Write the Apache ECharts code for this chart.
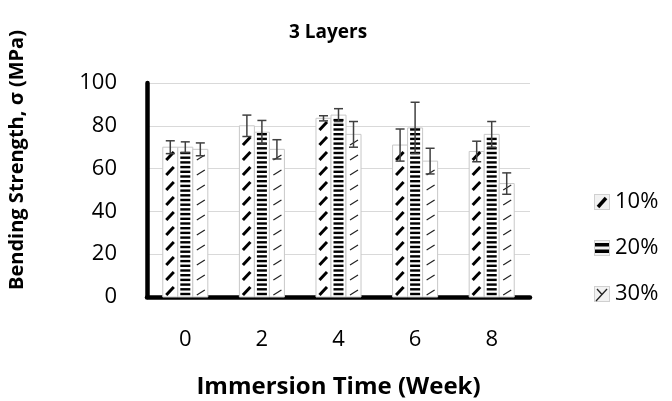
<!DOCTYPE html>
<html>
<head>
<meta charset="utf-8">
<script src="https://cdn.jsdelivr.net/npm/echarts@6/dist/echarts.min.js"></script>
<style>
  html, body { margin: 0; padding: 0; background: #fff; }
  #chart { width: 672px; height: 401px; }
</style>
</head>
<body>
<div id="chart"></div>
<script>
// Immersion time categories (weeks)
const weeks = ['0', '2', '4', '6', '8'];
// Fibre content series
const seriesNames = ['10%', '20%', '30%'];
// Mean bending strength (MPa)
const strength10 = [70, 80, 83.5, 71, 68];
const strength20 = [70, 77, 85, 79, 76];
const strength30 = [69, 69, 76, 63.5, 53];
// Standard deviation (MPa)
const error10 = [3, 5, 1.2, 7.5, 4.8];
const error20 = [2.5, 5.5, 3, 12, 6];
const error30 = [3, 4.5, 6, 6, 5];
// Value axis range
const yMin = 0, yMax = 100, yStep = 20;

const FONT = '"Open Sans", sans-serif';
const BAR_FRACTION = 0.196;   // width of one bar relative to the category band

// Hatching drawn inside each bar, one style per series
function hatchShapes(kind, x, yTop, w, yBot) {
  const out = [];
  if (kind === 0) {
    for (let y = yBot - 2; y - 8 >= yTop; y -= 15) {
      out.push({ type: 'line', shape: { x1: x + 3.5, y1: y, x2: x + w - 4, y2: y - 8 },
                 style: { stroke: '#000', lineWidth: 3 } });
    }
  } else if (kind === 1) {
    for (let y = yBot - 3; y - 1.2 >= yTop; y -= 4.7) {
      out.push({ type: 'rect', shape: { x: x + 2.5, y: y - 1.2, width: w - 5, height: 2.4 },
                 style: { fill: '#000' } });
    }
  } else {
    for (let y = yBot - 2; y - 5 >= yTop; y -= 15) {
      out.push({ type: 'line', shape: { x1: x + 4, y1: y, x2: x + w - 3, y2: y - 5 },
                 style: { stroke: '#222', lineWidth: 1.2 } });
    }
  }
  return out;
}

function makeRenderer(kind) {
  return function (params, api) {
    const cat = api.value(0);
    const val = api.value(1);
    const err = api.value(2);
    const base = api.coord([cat, 0]);
    const top = api.coord([cat, val]);
    const band = api.size([1, 0])[0];
    const w = band * BAR_FRACTION;
    const x = base[0] - 1.5 * w + kind * w;
    const yTop = top[1], yBot = base[1];
    const children = [
      { type: 'rect', shape: { x: x, y: yTop, width: w, height: yBot - yTop },
        style: { fill: '#fff', stroke: '#c8c8c8', lineWidth: 1 } }
    ].concat(hatchShapes(kind, x, yTop, w, yBot));
    // error bar
    const hi = api.coord([cat, val + err])[1];
    const lo = api.coord([cat, val - err])[1];
    const cx = x + w / 2, cap = 4.5;
    const es = { stroke: '#404040', lineWidth: 1.5 };
    children.push(
      { type: 'line', shape: { x1: cx, y1: hi, x2: cx, y2: lo }, style: es },
      { type: 'line', shape: { x1: cx - cap, y1: hi, x2: cx + cap, y2: hi }, style: es },
      { type: 'line', shape: { x1: cx - cap, y1: lo, x2: cx + cap, y2: lo }, style: es }
    );
    return { type: 'group', children: children };
  };
}

// Small legend swatches
function swatch(kind) {
  const c = document.createElement('canvas');
  c.width = 16; c.height = 16;
  const g = c.getContext('2d');
  g.fillStyle = '#f2f2f2'; g.fillRect(0, 0, 16, 16);
  g.strokeStyle = '#d0d0d0'; g.lineWidth = 1; g.strokeRect(0.5, 0.5, 15, 15);
  g.strokeStyle = '#000'; g.fillStyle = '#000';
  if (kind === 0) {
    g.lineWidth = 3.5; g.beginPath(); g.moveTo(4, 13); g.lineTo(12, 4); g.stroke();
  } else if (kind === 1) {
    g.fillRect(1, 3, 14, 3.5); g.fillRect(1, 9.5, 14, 3.5);
  } else {
    g.strokeStyle = '#222'; g.lineWidth = 1.3;
    g.beginPath(); g.moveTo(2, 15); g.lineTo(13, 3); g.stroke();
    g.beginPath(); g.moveTo(3, 3); g.lineTo(8, 8.5); g.stroke();
  }
  return 'image://' + c.toDataURL();
}

const values = [strength10, strength20, strength30];
const errors = [error10, error20, error30];

const chart = echarts.init(document.getElementById('chart'), null, { renderer: 'canvas' });
chart.setOption({
  animation: false,
  backgroundColor: '#fff',
  textStyle: { fontFamily: FONT, color: '#000' },
  title: {
    text: '3 Layers', left: 284, top: 18,
    textStyle: { fontFamily: FONT, fontSize: 19, fontWeight: 'bold', color: '#000' }
  },
  legend: {
    orient: 'vertical', left: 589, top: 186,
    itemWidth: 16, itemHeight: 16, itemGap: 24,
    textStyle: { fontFamily: FONT, fontSize: 22, color: '#000' },
    data: seriesNames.map((n, i) => ({ name: n, icon: swatch(i) }))
  },
  grid: { left: 147, right: 142, top: 83, bottom: 104, containLabel: false, outerBoundsMode: 'none' },
  xAxis: {
    type: 'category', data: weeks,
    name: 'Immersion Time (Week)', nameLocation: 'middle', nameGap: 78,
    nameTextStyle: { fontFamily: FONT, fontSize: 24, fontWeight: 'bold', color: '#000' },
    axisLine: { lineStyle: { color: '#000', width: 4.5 } },
    axisTick: { show: false },
    axisLabel: { fontFamily: FONT, fontSize: 22, color: '#000', margin: 32 }
  },
  yAxis: {
    type: 'value', min: yMin, max: yMax, interval: yStep,
    axisLine: { show: true, lineStyle: { color: '#000', width: 4.5 } },
    axisTick: { show: false },
    axisLabel: { fontFamily: FONT, fontSize: 22, color: '#000', margin: 30, padding: [5, 0, 0, 0] },
    splitLine: { lineStyle: { color: '#d9d9d9', width: 1 } }
  },
  graphic: [{
    type: 'text', x: 17, y: 160, rotation: Math.PI / 2,
    style: {
      text: 'Bending Strength, σ (MPa)', fontFamily: FONT, fontSize: 20, fontWeight: 'bold',
      fill: '#000', align: 'center', verticalAlign: 'middle'
    }
  }],
  series: seriesNames.map((n, i) => ({
    name: n, type: 'custom',
    renderItem: makeRenderer(i),
    encode: { x: 0, y: 1 },
    itemStyle: { color: '#000' },
    data: values[i].map((v, k) => [k, v, errors[i][k]])
  }))
});
</script>
</body>
</html>
